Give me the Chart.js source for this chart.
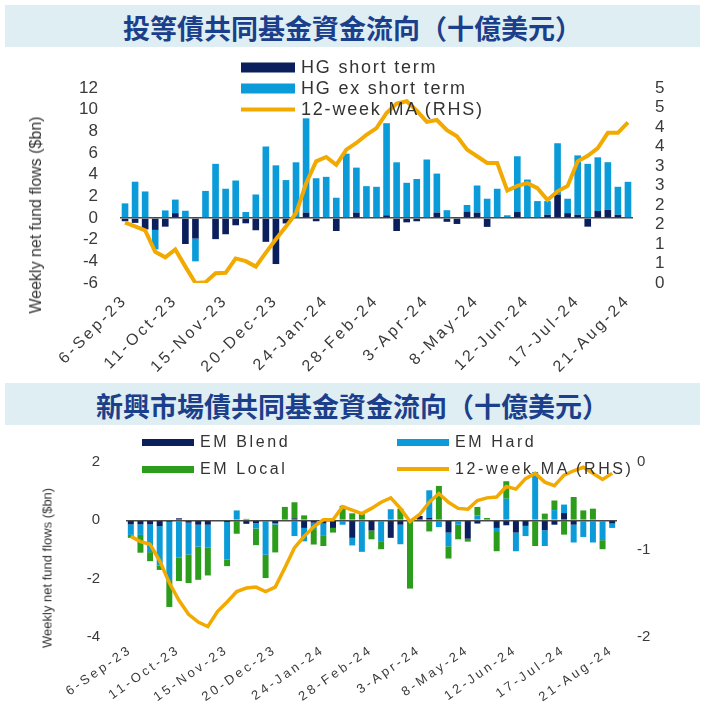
<!DOCTYPE html>
<html>
<head>
<meta charset="utf-8">
<script src="https://cdn.jsdelivr.net/npm/chart.js@4.4.0/dist/chart.umd.min.js"></script>
<style>
    body { margin: 0; width: 705px; height: 707px; background: #fff; position: relative; overflow: hidden; font-family: "Liberation Sans", Arial, sans-serif; }
    .banner { position: absolute; left: 5px; width: 695px; height: 42px; background: #deeef3; color: #1b3f8b; font-family: "Noto Sans CJK TC", sans-serif; font-weight: 700; font-size: 27px; line-height: 46px; text-align: center; }
    canvas { position: absolute; left: 0; }
    .ytitle { position: absolute; transform: translate(-50%, -50%) rotate(-90deg); white-space: nowrap; font-family: "Liberation Sans Narrow", "Liberation Sans", sans-serif; color: #333; }
    .item { position: absolute; display: flex; align-items: center; white-space: nowrap; color: #333; transform: translateY(-50%); }
    .sw { display: inline-block; margin-right: 6px; }
</style>
</head>
<body>
<div class="banner" style="top:5px">投等債共同基金資金流向（十億美元）</div>
<canvas id="hg" width="705" height="333" style="top:47px"></canvas>
<div class="ytitle" style="left:36px; top:215px; font-size:16px">Weekly net fund flows ($bn)</div>
<div id="hgLegend"></div>

<div class="banner" style="top:383px">新興市場債共同基金資金流向（十億美元）</div>
<canvas id="em" width="705" height="282" style="top:425px"></canvas>
<div class="ytitle" style="left:47px; top:568px; font-size:13px">Weekly net fund flows ($bn)</div>
<div id="emLegend"></div>

<script>
const weeks = [
    '6-Sep-23', '13-Sep-23', '20-Sep-23', '27-Sep-23', '4-Oct-23', '11-Oct-23', '18-Oct-23', '25-Oct-23',
    '1-Nov-23', '8-Nov-23', '15-Nov-23', '22-Nov-23', '29-Nov-23', '6-Dec-23', '13-Dec-23', '20-Dec-23',
    '27-Dec-23', '3-Jan-24', '10-Jan-24', '17-Jan-24', '24-Jan-24', '31-Jan-24', '7-Feb-24', '14-Feb-24',
    '21-Feb-24', '28-Feb-24', '6-Mar-24', '13-Mar-24', '20-Mar-24', '27-Mar-24', '3-Apr-24', '10-Apr-24',
    '17-Apr-24', '24-Apr-24', '1-May-24', '8-May-24', '15-May-24', '22-May-24', '29-May-24', '5-Jun-24',
    '12-Jun-24', '19-Jun-24', '26-Jun-24', '3-Jul-24', '10-Jul-24', '17-Jul-24', '24-Jul-24', '31-Jul-24',
    '7-Aug-24', '14-Aug-24', '21-Aug-24'
];

// investment grade ($bn, weekly) and 12-week MA (RHS)
const hgShort = [
    -0.3, -0.45, -1.05, -1.1, -0.8, 0.45, -2.4, -1.9, 0, -1.95, -1.5, -0.67, -0.49,
    -1.13, -2.2, -4.25, -0.5, 0, 0.5, -0.3, 0, -1.2, 0, 0.5, 0, 0, 0.25,
    -1.2, -0.4, -0.3, 0, 0.5, -0.35, -0.55, 0.6, 0.5, -0.82, 0, 0, 0.55,
    0, 0, 0.3, 2.15, 0.45, 0.3, -0.8, 0.65, 0.75, 0.3, 0
];
const hgExShort = [
    1.35, 3.35, 2.45, -1.8, 0.7, 1.25, 0.67, -2.1, 2.5, 5.0, 2.7, 3.46, 0.55,
    2.17, 6.6, 4.86, 3.5, 5.14, 8.7, 3.67, 3.8, 1.87, 5.94, 4.15, 2.94, 2.88, 8.5,
    5.14, 3.25, 3.6, 5.4, 3.6, 0.72, 0, 0.6, 2.5, 1.78, 2.7, 0.25, 5.15,
    3.55, 1.56, 1.26, 4.75, 1.33, 5.48, 5.0, 4.95, 4.4, 2.58, 3.34
];
const hgMA = [
    1.55, 1.45, 1.35, 0.8, 0.66, 0.86, 0.42, 0.0, 0.02, 0.25, 0.26, 0.63, 0.56,
    0.42, 0.78, 1.12, 1.45, 1.79, 2.55, 3.12, 3.23, 3.03, 3.42, 3.59, 3.8, 3.97, 4.36,
    4.6, 4.66, 4.42, 4.13, 4.18, 3.92, 3.76, 3.42, 3.25, 3.08, 3.08, 2.37, 2.49,
    2.56, 2.43, 2.13, 2.35, 2.49, 3.12, 3.26, 3.46, 3.85, 3.85, 4.12
];

// emerging markets ($bn, weekly) and 12-week MA (RHS)
const emBlend = [
    -0.14, -0.14, -0.14, -0.2, -0.05, 0.07, -0.08, -0.15, -0.15, 0, -0.06, 0, -0.12,
    -0.1, 0, -0.1, 0.03, 0.07, -0.26, -0.08, -0.11, -0.26, 0, -0.6, 0, -0.35, 0,
    -0.6, -0.15, 0, 0.15, 0.08, 0, -0.42, 0, -0.63, -0.11, 0, -0.26, -0.17,
    -0.42, -0.19, 0, -0.34, -0.15, 0.25, -0.15, 0, 0, 0, -0.11
];
const emHard = [
    -0.36, -0.36, -0.95, -1.35, -2.0, -1.28, -1.09, -0.75, -0.79, -0.03, -1.29, 0.34, 0,
    -0.18, -1.18, -0.05, 0, -0.54, -0.46, -0.25, -0.4, 0, -0.15, -0.26, -1.08, 0, -0.74,
    0.38, -0.67, 0, 0, 0.95, -0.23, -0.47, -0.15, 0, 0.17, 0, -0.14, 0.74,
    -0.64, -0.35, 1.66, -0.54, 0.35, 0.29, -0.61, -0.57, -0.76, -0.68, -0.15
];
const emLocal = [
    -0.1, -0.61, -0.31, -0.15, -0.92, -0.8, -0.98, -1.14, -0.95, 0, -0.22, -0.46, 0.05,
    -0.57, -0.8, -0.95, 0.43, 0.55, 0.17, -0.5, -0.37, -0.16, 0.5, 0.24, 0.23, -0.3, -0.25,
    0, 0.4, -2.34, 0, -0.38, 1.18, -0.42, -0.5, -0.1, 0.29, 0.08, -0.66, 0.6,
    0, 0, -0.88, 0.23, 0.33, -0.49, 0.8, 0.34, 0.4, -0.31, 0
];
const emMA = [
    -0.85, -0.91, -0.94, -1.13, -1.38, -1.58, -1.74, -1.83, -1.88, -1.71, -1.6, -1.48, -1.44,
    -1.43, -1.48, -1.43, -1.21, -0.98, -0.85, -0.74, -0.66, -0.66, -0.51, -0.55, -0.59, -0.53, -0.46,
    -0.41, -0.53, -0.68, -0.6, -0.46, -0.36, -0.46, -0.53, -0.54, -0.44, -0.41, -0.4, -0.28,
    -0.31, -0.19, -0.13, -0.23, -0.27, -0.15, -0.1, -0.06, -0.13, -0.2, -0.13
];

const NAVY = '#0b1f5c';
const LIGHT = '#0a9bd8';
const GREEN = '#2c9c1c';
const ORANGE = '#f2a900';
const TEXT = '#3a3a3a';
const FONT = '"Liberation Sans", Arial, sans-serif';

// category axis whose labels are drawn with extra letter spacing
class SpacedCategoryScale extends Chart.CategoryScale {
    drawLabels(chartArea) {
        const ctx = this.ctx;
        ctx.save();
        ctx.letterSpacing = (this.options.ticks.spacing || 0) + 'px';
        super.drawLabels(chartArea);
        ctx.restore();
    }
}
SpacedCategoryScale.id = 'spacedCategory';
SpacedCategoryScale.defaults = Chart.CategoryScale.defaults;
Chart.register(SpacedCategoryScale);

const zeroGrid = {
    color: ctx => (ctx.tick && ctx.tick.value === 0 ? '#4a4a4a' : 'rgba(0,0,0,0)'),
    lineWidth: 1.5,
    drawTicks: false
};
const noGrid = { display: false, drawTicks: false };

function makeChart(id, cfg) {
    return new Chart(document.getElementById(id).getContext('2d'), {
        data: { labels: weeks, datasets: cfg.datasets },
        options: {
            responsive: false,
            animation: false,
            devicePixelRatio: 1,
            layout: { padding: { top: cfg.top, left: 0, right: 0, bottom: 0 } },
            plugins: { legend: { display: false }, tooltip: { enabled: false } },
            datasets: { bar: { barPercentage: cfg.barWidth, categoryPercentage: 1 } },
            scales: {
                x: {
                    type: 'spacedCategory',
                    stacked: true,
                    grid: noGrid,
                    border: { display: false },
                    ticks: {
                        autoSkip: false, minRotation: cfg.rot, maxRotation: cfg.rot, padding: cfg.xPad,
                        spacing: cfg.xSpacing,
                        color: TEXT, font: { family: FONT, size: cfg.xFont },
                        callback: (v, i) => (i % 5 === 0 ? weeks[i] : '')
                    },
                    afterFit: s => { s.height = cfg.xHeight; }
                },
                y: {
                    stacked: true, min: cfg.left[0], max: cfg.left[1], z: 1,
                    grid: zeroGrid,
                    border: { display: false },
                    ticks: { autoSkip: false, stepSize: cfg.left[2], padding: cfg.yPad, color: TEXT, font: { family: FONT, size: cfg.yFont } },
                    afterFit: s => { s.width = cfg.leftW; }
                },
                y1: {
                    position: 'right', min: cfg.right[0], max: cfg.right[1],
                    grid: noGrid,
                    border: { display: false },
                    ticks: {
                        autoSkip: false, stepSize: cfg.right[2], padding: cfg.y1Pad, color: TEXT, font: { family: FONT, size: cfg.yFont },
                        callback: v => String(Math.round(v))
                    },
                    afterFit: s => { s.width = cfg.rightW; }
                }
            }
        }
    });
}

const hgChart = makeChart('hg', {
    datasets: [
        { type: 'bar', label: 'HG short term', data: hgShort, backgroundColor: NAVY, yAxisID: 'y', order: 2 },
        { type: 'bar', label: 'HG ex short term', data: hgExShort, backgroundColor: LIGHT, yAxisID: 'y', order: 2 },
        { type: 'line', label: '12-week MA (RHS)', data: hgMA, borderColor: ORANGE, backgroundColor: ORANGE, borderWidth: 4, pointRadius: 0, yAxisID: 'y1', order: 1 }
    ],
    top: 41, xHeight: 97, leftW: 120, rightW: 72, barWidth: 0.66,
    left: [-6, 12, 2], right: [0, 5, 0.5],
    rot: 45, xPad: 8, xFont: 16, xSpacing: 3, yFont: 17, yPad: 22, y1Pad: 22
});

const emChart = makeChart('em', {
    datasets: [
        { type: 'bar', label: 'EM Blend', data: emBlend, backgroundColor: NAVY, yAxisID: 'y', order: 2 },
        { type: 'bar', label: 'EM Hard', data: emHard, backgroundColor: LIGHT, yAxisID: 'y', order: 2 },
        { type: 'bar', label: 'EM Local', data: emLocal, backgroundColor: GREEN, yAxisID: 'y', order: 2 },
        { type: 'line', label: '12-week MA (RHS)', data: emMA, borderColor: ORANGE, backgroundColor: ORANGE, borderWidth: 3.5, pointRadius: 0, yAxisID: 'y1', order: 1 }
    ],
    top: 37, xHeight: 70, leftW: 126, rightW: 88, barWidth: 0.62,
    left: [-4, 2, 2], right: [-2, 0, 1],
    rot: 35, xPad: 5, xFont: 13, xSpacing: 3, yFont: 15, yPad: 26, y1Pad: 20
});

// legends built from the chart datasets
function buildLegend(chart, holder, spots, fontSize, spacing) {
    const el = document.getElementById(holder);
    chart.data.datasets.forEach((ds, i) => {
        const p = spots[i];
        const item = document.createElement('div');
        item.className = 'item';
        item.style.left = p.x + 'px';
        item.style.top = p.y + 'px';
        item.style.fontSize = fontSize + 'px';
        item.style.letterSpacing = spacing + 'px';
        const sw = document.createElement('span');
        sw.className = 'sw';
        sw.style.width = p.w + 'px';
        sw.style.height = (ds.type === 'line' ? 4 : p.h) + 'px';
        sw.style.background = ds.type === 'line' ? ds.borderColor : ds.backgroundColor;
        item.appendChild(sw);
        item.appendChild(document.createTextNode(ds.label));
        el.appendChild(item);
    });
}

buildLegend(hgChart, 'hgLegend', [
    { x: 241, y: 67, w: 54, h: 10 },
    { x: 241, y: 88, w: 54, h: 10 },
    { x: 241, y: 109, w: 54, h: 10 }
], 18, 1.8);

buildLegend(emChart, 'emLegend', [
    { x: 142, y: 442, w: 52, h: 7 },
    { x: 397, y: 442, w: 52, h: 7 },
    { x: 142, y: 469, w: 52, h: 7 },
    { x: 397, y: 469, w: 52, h: 7 }
], 16, 2.6);
</script>
</body>
</html>
